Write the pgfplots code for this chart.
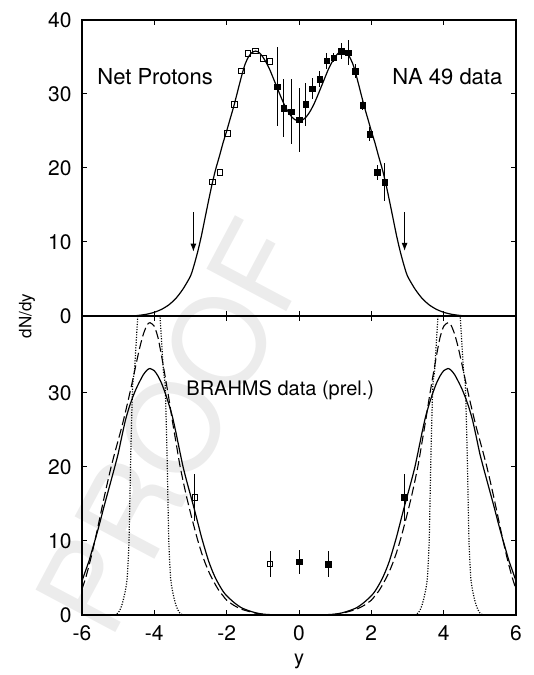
\documentclass[border=0pt]{standalone}
\usepackage{fontspec}
\setmainfont{TeX Gyre Heros}
\usepackage{pgfplots}
\usepackage{pgfplotstable}
\pgfplotsset{compat=1.18}
\usetikzlibrary{arrows.meta}

% NA49 fit curve (top panel)
\pgfplotstableread{
x y
-4.6 0.0
-4.4 0.1
-4.2 0.25
-4.0 0.5
-3.8 0.9
-3.6 1.5
-3.4 2.4
-3.2 3.7
-3.0 5.4
-2.9 6.9
-2.8 8.7
-2.7 10.8
-2.6 13.2
-2.5 15.6
-2.4 17.9
-2.3 19.9
-2.2 21.6
-2.1 23.4
-2.0 25.0
-1.9 26.7
-1.8 28.4
-1.7 30.3
-1.6 32.2
-1.5 33.9
-1.4 35.0
-1.3 35.6
-1.2 35.8
-1.1 35.6
-1.0 35.0
-0.9 34.2
-0.8 33.2
-0.7 32.0
-0.6 30.8
-0.5 29.6
-0.4 28.5
-0.3 27.6
-0.2 26.9
-0.1 26.5
0.0 26.4
0.1 26.5
0.2 26.9
0.3 27.6
0.4 28.5
0.5 29.6
0.6 30.8
0.7 32.0
0.8 33.2
0.9 34.2
1.0 35.0
1.1 35.6
1.2 35.8
1.3 35.6
1.4 35.0
1.5 33.9
1.6 32.2
1.7 30.3
1.8 28.4
1.9 26.7
2.0 25.0
2.1 23.4
2.2 21.6
2.3 19.9
2.4 17.9
2.5 15.6
2.6 13.2
2.7 10.8
2.8 8.7
2.9 6.9
3.0 5.4
3.2 3.7
3.4 2.4
3.6 1.5
3.8 0.9
4.0 0.5
4.2 0.25
4.4 0.1
4.6 0.0
}\topfit

\pgfplotstableread{
x y
-2.39 18.1
-2.19 19.4
-1.98 24.7
-1.79 28.6
-1.59 33.1
-1.41 35.5
-1.21 35.8
-0.98 34.8
-0.80 34.4
}\naopen

\pgfplotstableread{
x y e
-0.61 31.0 5.3
-0.42 28.1 3.9
-0.22 27.6 4.4
0.00 26.5 4.3
0.18 28.6 2.9
0.37 30.7 1.4
0.57 32.0 1.1
0.77 34.5 1.1
0.96 34.9 0.6
1.16 35.8 1.1
1.36 35.6 1.7
1.56 33.1 0.9
1.76 28.5 0.7
1.96 24.6 0.9
2.16 19.4 1.0
2.37 18.1 2.6
}\nafilled

% bottom panel curves
\pgfplotstableread{
x y
-6.0 4.6
-5.9 6.0
-5.8 7.4
-5.7 9.1
-5.6 10.8
-5.5 12.6
-5.4 14.5
-5.3 16.3
-5.2 18.1
-5.1 19.9
-5.0 21.8
-4.9 24.1
-4.8 26.3
-4.7 28.0
-4.6 29.4
-4.5 30.6
-4.4 31.6
-4.3 32.5
-4.2 33.1
-4.12 33.3
-4.0 33.0
-3.9 32.3
-3.8 31.3
-3.7 30.0
-3.6 28.5
-3.5 26.8
-3.4 24.6
-3.3 22.2
-3.2 19.9
-3.1 18.0
-3.0 16.2
-2.9 14.4
-2.8 12.5
-2.7 10.6
-2.6 8.9
-2.5 7.3
-2.4 6.0
-2.3 4.9
-2.2 4.0
-2.1 3.2
-2.0 2.6
-1.8 1.7
-1.6 1.0
-1.4 0.6
-1.2 0.3
-1.0 0.12
-0.8 0.05
-0.5 0.0
0.5 0.0
0.8 0.05
1.0 0.12
1.2 0.3
1.4 0.6
1.6 1.0
1.8 1.7
2.0 2.6
2.1 3.2
2.2 4.0
2.3 4.9
2.4 6.0
2.5 7.3
2.6 8.9
2.7 10.6
2.8 12.5
2.9 14.4
3.0 16.2
3.1 18.0
3.2 19.9
3.3 22.2
3.4 24.6
3.5 26.8
3.6 28.5
3.7 30.0
3.8 31.3
3.9 32.3
4.0 33.0
4.12 33.3
4.2 33.1
4.3 32.5
4.4 31.6
4.5 30.6
4.6 29.4
4.7 28.0
4.8 26.3
4.9 24.1
5.0 21.8
5.1 19.9
5.2 18.1
5.3 16.3
5.4 14.5
5.5 12.6
5.6 10.8
5.7 9.1
5.8 7.4
5.9 6.0
6.0 4.6
}\brsolid

\pgfplotstableread{
x y
-6.0 3.5
-5.9 5.0
-5.8 6.8
-5.7 8.8
-5.6 11.0
-5.5 13.3
-5.4 15.6
-5.3 17.8
-5.2 19.9
-5.1 21.8
-5.0 23.6
-4.9 25.4
-4.8 27.4
-4.7 29.5
-4.6 31.7
-4.5 34.0
-4.4 36.2
-4.3 38.0
-4.2 39.2
-4.12 39.5
-4.0 39.0
-3.9 37.5
-3.8 35.0
-3.7 32.2
-3.6 29.3
-3.5 26.2
-3.4 23.3
-3.3 20.4
-3.2 18.0
-3.1 15.8
-3.0 13.8
-2.9 11.9
-2.8 10.1
-2.7 8.5
-2.6 7.1
-2.5 5.9
-2.4 4.9
-2.3 4.0
-2.2 3.2
-2.1 2.6
-2.0 2.0
-1.8 1.3
-1.6 0.8
-1.4 0.5
-1.2 0.25
-1.0 0.1
-0.7 0.0
0.7 0.0
1.0 0.1
1.2 0.25
1.4 0.5
1.6 0.8
1.8 1.3
2.0 2.0
2.1 2.6
2.2 3.2
2.3 4.0
2.4 4.9
2.5 5.9
2.6 7.1
2.7 8.5
2.8 10.1
2.9 11.9
3.0 13.8
3.1 15.8
3.2 18.0
3.3 20.4
3.4 23.3
3.5 26.2
3.6 29.3
3.7 32.2
3.8 35.0
3.9 37.5
4.0 39.0
4.12 39.5
4.2 39.2
4.3 38.0
4.4 36.2
4.5 34.0
4.6 31.7
4.7 29.5
4.8 27.4
4.9 25.4
5.0 23.6
5.1 21.8
5.2 19.9
5.3 17.8
5.4 15.6
5.5 13.3
5.6 11.0
5.7 8.8
5.8 6.8
5.9 5.0
6.0 3.5
}\brdashed

\pgfplotstableread{
x y
-5.10 0.0
-5.05 0.1
-5.00 0.3
-4.95 0.7
-4.90 1.3
-4.85 2.2
-4.80 3.3
-4.75 5.0
-4.70 10.0
-4.65 22.0
-4.60 31.0
-4.55 33.0
-4.50 37.0
-4.45 41.0
-4.35 50.0
-4.15 60.0
-3.95 50.0
-3.85 41.0
-3.80 37.0
-3.75 33.0
-3.70 31.0
-3.65 22.0
-3.60 10.0
-3.55 5.0
-3.50 3.3
-3.45 2.2
-3.40 1.3
-3.35 0.7
-3.30 0.3
-3.25 0.1
-3.20 0.0
}\dotleft

\pgfplotstableread{
x y
3.20 0.0
3.25 0.1
3.30 0.3
3.35 0.7
3.40 1.3
3.45 2.2
3.50 3.3
3.55 5.0
3.60 10.0
3.65 22.0
3.70 31.0
3.75 33.0
3.80 37.0
3.85 41.0
3.95 50.0
4.15 60.0
4.35 50.0
4.45 41.0
4.50 37.0
4.55 33.0
4.60 31.0
4.65 22.0
4.70 10.0
4.75 5.0
4.80 3.3
4.85 2.2
4.90 1.3
4.95 0.7
5.00 0.3
5.05 0.1
5.10 0.0
}\dotright

\pgfplotstableread{
x y e
-2.88 15.9 3.2
-0.80 6.9 1.8
}\bropen

\pgfplotstableread{
x y e
0.00 7.2 1.6
0.80 6.9 1.8
2.91 15.9 3.2
}\brfilled

\pgfplotsset{
  panel/.style={
    scale only axis, width=434pt,
    xmin=-6, xmax=6,
    xtick={-6,-4,...,6},
    axis line style={line width=1.1pt},
    every tick/.style={black, line width=1pt},
    major tick length=5pt,
    tick align=inside,
    /pgf/number format/assume math mode=true,
    tick label style={font=\fontsize{21}{24}\selectfont},
    yticklabel style={xshift=-7pt},
    xticklabel style={yshift=-7pt},
  },
  fitline/.style={black, line width=1.2pt, no marks, smooth, tension=0.4},
  dotline/.style={black, line width=1.2pt, no marks, dash pattern=on 1.1pt off 1.5pt, smooth, tension=0.3},
  opensq/.style={only marks, mark=square, mark size=2.8pt,
    mark options={solid, fill=white, line width=0.9pt}},
  fillsq/.style={only marks, mark=square*, mark size=2.8pt,
    mark options={solid, fill=black}},
  errs/.style={error bars/.cd, y dir=both, y explicit,
    error mark=none, error bar style={line width=0.8pt}},
}

\begin{document}
\begin{tikzpicture}
\useasboundingbox (0,0) rectangle (534pt,675pt);

% watermark
\node[rotate=62, inner sep=0pt, text=gray!15, font=\fontsize{124}{124}\selectfont]
  at (174pt,248pt) {PROOF};

% top panel: NA 49
\begin{axis}[panel,
  at={(82pt,359pt)}, height=296pt,
  ymin=0, ymax=40, ytick={0,10,20,30,40},
  xticklabels={},
]
\addplot[fitline] table[x=x,y=y] {\topfit};
\addplot[opensq] table[x=x,y=y] {\naopen};
\addplot[fillsq, errs] table[x=x,y=y,y error=e] {\nafilled};
\addplot[black, line width=0.9pt, -{Latex[length=8pt,width=6pt]}]
  coordinates {(-2.92,14.0) (-2.92,8.7)};
\addplot[black, line width=0.9pt, -{Latex[length=8pt,width=6pt]}]
  coordinates {(2.92,14.0) (2.92,8.8)};
\node[anchor=west, font=\fontsize{22}{26}\selectfont] at (axis cs:-5.67,32.4) {Net Protons};
\node[anchor=east, font=\fontsize{22}{26}\selectfont] at (axis cs:5.72,32.4) {NA 49 data};
\end{axis}

% bottom panel: BRAHMS
\begin{axis}[panel,
  at={(82pt,60pt)}, height=299pt,
  ymin=0, ymax=40.4, ytick={0,10,20,30},
]
\addplot[dotline] table[x=x,y=y] {\dotleft};
\addplot[dotline] table[x=x,y=y] {\dotright};
\addplot[fitline, line width=1.1pt, dash pattern=on 9pt off 4pt] table[x=x,y=y] {\brdashed};
\addplot[fitline] table[x=x,y=y] {\brsolid};
\addplot[opensq, errs] table[x=x,y=y,y error=e] {\bropen};
\addplot[fillsq, errs] table[x=x,y=y,y error=e] {\brfilled};
\node[anchor=west, font=\fontsize{20}{24}\selectfont] at (axis cs:-3.21,30.4) {BRAHMS data (prel.)};
\end{axis}

% axis titles
\node[rotate=90, font=\fontsize{17}{20}\selectfont] at (27pt,359pt) {dN/dy};
\node[font=\fontsize{20}{24}\selectfont] at (299pt,14pt) {y};
\end{tikzpicture}
\end{document}
